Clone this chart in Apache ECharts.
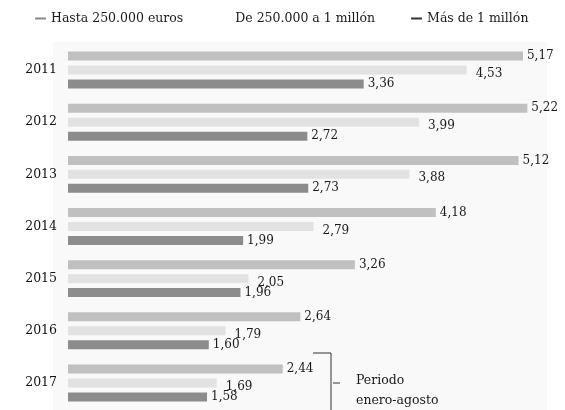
<!DOCTYPE html>
<html><head><meta charset="utf-8">
<script src="https://cdn.jsdelivr.net/npm/echarts@6/dist/echarts.min.js"></script>
<style>html,body{margin:0;padding:0;background:#fff}#c{width:565px;height:410px}</style>
</head><body><div id="c"></div>
<script>
const years = ['2011','2012','2013','2014','2015','2016','2017'];
const hasta250k = [5.17, 5.22, 5.12, 4.18, 3.26, 2.64, 2.44];
const de250kA1m = [4.53, 3.99, 3.88, 2.79, 2.05, 1.79, 1.69];
const masDe1m = [3.36, 2.72, 2.73, 1.99, 1.96, 1.60, 1.58];
const seriesNames = ['Hasta 250.000 euros', 'De 250.000 a 1 millón', 'Más de 1 millón'];

const FONT = 'DejaVu Serif';
const fmt = p => p.value.toFixed(2).replace('.', ',');
const chart = echarts.init(document.getElementById('c'));
function mk(name, data, color, lblOffset) {
  return {
    name, type: 'bar', data, barWidth: 9, barGap: '55%',
    itemStyle: { color },
    label: { show: true, position: 'right', distance: 4, offset: lblOffset, formatter: fmt,
      color: '#1a1a1a', fontFamily: FONT, fontSize: 12 }
  };
}
chart.setOption({
  animation: false,
  backgroundColor: '#fff',
  legend: {
    top: 7, left: 30, itemWidth: 11, itemHeight: 2, itemGap: 36,
    textStyle: { fontFamily: FONT, fontSize: 12.5, color: '#1a1a1a' },
    data: [
      { name: seriesNames[0], itemStyle: { color: '#888' } },
      { name: seriesNames[1], itemStyle: { color: '#fff' } },
      { name: seriesNames[2], itemStyle: { color: '#333' } }
    ]
  },
  grid: { left: 68, right: 13, top: 44, height: 365, containLabel: false },
  xAxis: { type: 'value', min: 0, max: 5.5, show: false },
  yAxis: {
    type: 'category', data: years, inverse: true,
    axisLine: { show: false }, axisTick: { show: false },
    axisLabel: { margin: 11, color: '#111', fontFamily: FONT, fontSize: 12.5 }
  },
  graphic: [
    { type: 'rect', z: -10, shape: { x: 53, y: 42, width: 494, height: 368 }, style: { fill: '#f9f9f9' } },
    { type: 'polyline', shape: { points: [[313, 353], [331, 353], [331, 410]] }, style: { stroke: '#333', lineWidth: 1, fill: null } },
    { type: 'line', shape: { x1: 333, y1: 383, x2: 340, y2: 383 }, style: { stroke: '#333', lineWidth: 1 } },
    { type: 'text', left: 356, top: 371, style: { text: 'Periodo\nenero-agosto', fontFamily: FONT, fontSize: 12.5, lineHeight: 20, fill: '#1a1a1a' } }
  ],
  series: [
    mk(seriesNames[0], hasta250k, '#c0c0c0', [0, 0]),
    mk(seriesNames[1], de250kA1m, '#e2e2e2', [5, 4]),
    mk(seriesNames[2], masDe1m, '#8c8c8c', [0, 0])
  ]
});
</script></body></html>
